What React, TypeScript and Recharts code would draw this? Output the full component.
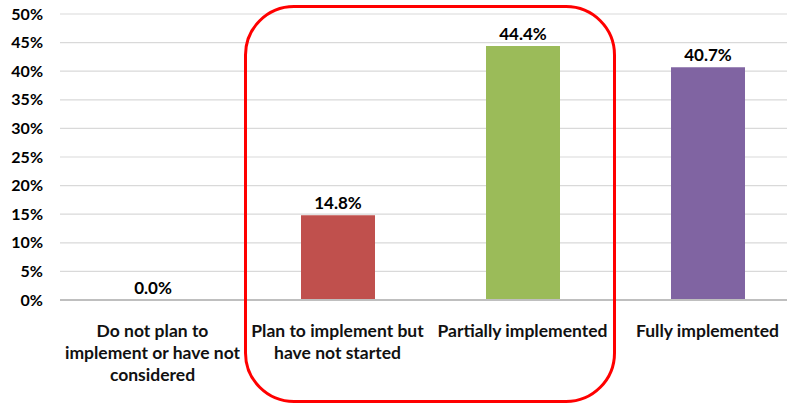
import React from "react";
import { BarChart, Bar, XAxis, YAxis, CartesianGrid, LabelList, Cell } from "recharts";

const categories = [
  "Do not plan to\nimplement or have not\nconsidered",
  "Plan to implement but\nhave not started",
  "Partially implemented",
  "Fully implemented",
];
const values = [0.0, 14.8, 44.4, 40.7];
const colors = ["#4F81BD", "#C0504D", "#9BBB59", "#8064A2"];
const yTicks = [0, 5, 10, 15, 20, 25, 30, 35, 40, 45, 50];

const data = categories.map((c, i) => ({ name: c, value: values[i] }));

const FONT = "Lato, 'Open Sans', sans-serif";

const CategoryTick = (props: any) => {
  const { x, y, payload } = props;
  const lines = String(payload.value).split("\n");
  return (
    <text x={x} y={y} textAnchor="middle" fontFamily={FONT} fontSize={17.5} fontWeight={700} fill="#111">
      {lines.map((l: string, i: number) => (
        <tspan key={i} x={x} dy={i === 0 ? 29 : 22}>
          {l}
        </tspan>
      ))}
    </text>
  );
};

export default function App() {
  return (
    <div style={{ position: "absolute", left: 0, top: 0, width: 787, height: 406, overflow: "hidden", background: "#fff" }}>
      <BarChart width={800} height={406} data={data} margin={{ top: 14, right: 0, bottom: 0, left: 0 }} barSize={74}>
        <CartesianGrid horizontal vertical={false} stroke="#d9d9d9" strokeWidth={1.2} />
        <XAxis
          dataKey="name"
          height={106}
          tick={<CategoryTick />}
          tickLine={false}
          axisLine={{ stroke: "#bfbfbf", strokeWidth: 2 }}
          interval={0}
        />
        <YAxis
          width={60}
          domain={[0, 50]}
          ticks={yTicks}
          tickFormatter={(v: number) => `${v}%`}
          tickLine={false}
          axisLine={false}
          tickSize={0}
          tickMargin={17}
          tick={{ fontFamily: FONT, fontSize: 16, fontWeight: 700, fill: "#000" }}
        />
        <Bar
          dataKey="value"
          isAnimationActive={false}
          minPointSize={(v: number) => (v === 0 ? 0.5 : 0)}
        >
          {data.map((d, i) => (
            <Cell key={i} fill={d.value === 0 ? "none" : colors[i]} />
          ))}
          <LabelList
            dataKey="value"
            position="top"
            offset={6}
            formatter={(v: any) => `${Number(v).toFixed(1)}%`}
            style={{ fontFamily: FONT, fontSize: 17, fontWeight: 700, fill: "#000" }}
          />
        </Bar>
      </BarChart>
      <div
        style={{
          position: "absolute",
          left: 244,
          top: 5,
          width: 372,
          height: 398,
          boxSizing: "border-box",
          border: "3px solid #ff0000",
          borderRadius: 50,
          pointerEvents: "none",
        }}
      />
    </div>
  );
}
